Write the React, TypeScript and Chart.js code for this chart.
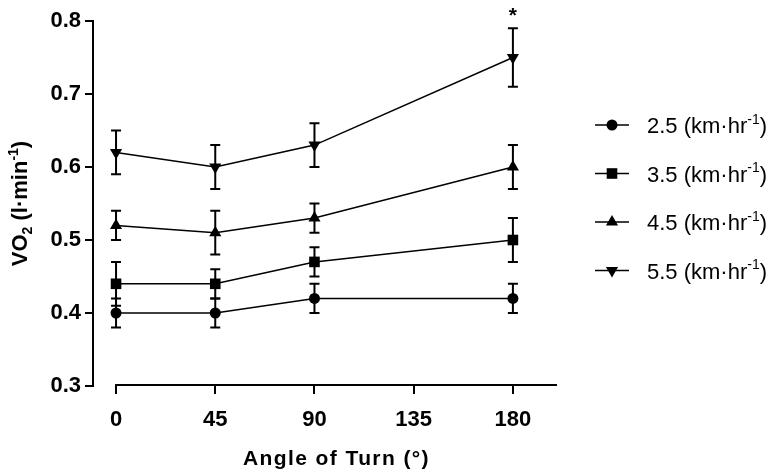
import React, { useEffect, useRef } from "react";
import { Chart, registerables } from "chart.js";

Chart.register(...registerables);

// ---------- data ----------
const angles = [0, 45, 90, 180];
const xTickValues = [0, 45, 90, 135, 180];
const yTickValues = [0.3, 0.4, 0.5, 0.6, 0.7, 0.8];
const speeds = ["2.5", "3.5", "4.5", "5.5"];
const vo2Speed25 = [0.4, 0.4, 0.42, 0.42];
const errSpeed25 = [0.02, 0.02, 0.02, 0.02];
const vo2Speed35 = [0.44, 0.44, 0.47, 0.5];
const errSpeed35 = [0.03, 0.02, 0.02, 0.03];
const vo2Speed45 = [0.52, 0.51, 0.53, 0.6];
const errSpeed45 = [0.02, 0.03, 0.02, 0.03];
const vo2Speed55 = [0.62, 0.6, 0.63, 0.75];
const errSpeed55 = [0.03, 0.03, 0.03, 0.04];
const significantAngles = [180];
const xTitle = "Angle of Turn (°)";

const FONT = '"Liberation Sans", Arial, Helvetica, sans-serif';

type Seg = { t: string; s?: "sup" | "sub" };

function drawRich(
  ctx: CanvasRenderingContext2D,
  segs: Seg[],
  x: number,
  baseline: number,
  size: number,
  weight: string,
  align: "left" | "center",
  spacing = 0
) {
  const c: any = ctx;
  c.letterSpacing = `${spacing}px`;
  const fontFor = (seg: Seg) =>
    `${weight} ${seg.s ? Math.round(size * 0.62) : size}px ${FONT}`;
  const widths = segs.map((seg) => {
    ctx.font = fontFor(seg);
    return ctx.measureText(seg.t).width;
  });
  const total = widths.reduce((a, b) => a + b, 0);
  let cx = align === "center" ? x - total / 2 : x;
  ctx.textAlign = "left";
  ctx.textBaseline = "alphabetic";
  segs.forEach((seg, i) => {
    ctx.font = fontFor(seg);
    const dy = seg.s === "sup" ? -size * 0.42 : seg.s === "sub" ? size * 0.22 : 0;
    ctx.fillText(seg.t, cx, baseline + dy);
    cx += widths[i];
  });
  c.letterSpacing = "0px";
}

function drawMarker(
  ctx: CanvasRenderingContext2D,
  style: string,
  x: number,
  y: number,
  r: number
) {
  ctx.beginPath();
  if (style === "circle") {
    ctx.arc(x, y, r, 0, Math.PI * 2);
  } else if (style === "rect") {
    const h = r * Math.SQRT1_2;
    ctx.rect(x - h, y - h, 2 * h, 2 * h);
  } else {
    const down = style === "down";
    for (let k = 0; k < 3; k++) {
      const a = (down ? Math.PI : 0) + (k * 2 * Math.PI) / 3;
      const px = x + Math.sin(a) * r;
      const py = y - Math.cos(a) * r;
      if (k === 0) ctx.moveTo(px, py);
      else ctx.lineTo(px, py);
    }
    ctx.closePath();
  }
  ctx.fill();
}

const seriesValues = [vo2Speed25, vo2Speed35, vo2Speed45, vo2Speed55];
const seriesErrors = [errSpeed25, errSpeed35, errSpeed45, errSpeed55];
const markerStyles = ["circle", "rect", "triangle", "down"];
const markerRadius = [5.5, 7.5, 7, 7];

export default function App() {
  const canvasRef = useRef<HTMLCanvasElement | null>(null);

  useEffect(() => {
    if (!canvasRef.current) return;

    const errorBars = {
      id: "errorBars",
      beforeDatasetsDraw(chart: any) {
        const ctx = chart.ctx as CanvasRenderingContext2D;
        const ys = chart.scales.y;
        ctx.save();
        ctx.strokeStyle = "#000";
        ctx.lineWidth = 2;
        chart.data.datasets.forEach((ds: any, i: number) => {
          const meta = chart.getDatasetMeta(i);
          meta.data.forEach((pt: any, j: number) => {
            const v = ds.data[j].y;
            const e = seriesErrors[i][j];
            const top = ys.getPixelForValue(v + e);
            const bot = ys.getPixelForValue(v - e);
            const x = pt.x;
            ctx.beginPath();
            ctx.moveTo(x, top);
            ctx.lineTo(x, bot);
            ctx.moveTo(x - 5, top);
            ctx.lineTo(x + 5, top);
            ctx.moveTo(x - 5, bot);
            ctx.lineTo(x + 5, bot);
            ctx.stroke();
          });
        });
        ctx.restore();
      },
      afterDraw(chart: any) {
        const ctx = chart.ctx as CanvasRenderingContext2D;
        const xs = chart.scales.x;
        const ys = chart.scales.y;
        const area = chart.chartArea;
        ctx.save();
        ctx.fillStyle = "#000";
        ctx.strokeStyle = "#000";

        // x axis line (offset from y axis)
        ctx.lineWidth = 2;
        ctx.beginPath();
        ctx.moveTo(xs.getPixelForValue(0) - 1, area.bottom - 1);
        ctx.lineTo(area.right, area.bottom - 1);
        ctx.stroke();

        // significance star
        const last = seriesValues.length - 1;
        significantAngles.forEach((a) => {
          const j = angles.indexOf(a);
          const top = seriesValues[last][j] + seriesErrors[last][j];
          ctx.font = `bold 21px ${FONT}`;
          ctx.textAlign = "center";
          ctx.textBaseline = "alphabetic";
          ctx.fillText("*", xs.getPixelForValue(a), ys.getPixelForValue(top) - 6);
        });

        // x title
        drawRich(ctx, [{ t: xTitle }], (xs.getPixelForValue(0) + area.right) / 2, 465, 21, "bold", "center", 1.4);

        // y title
        ctx.save();
        ctx.translate(27, (area.top + area.bottom) / 2);
        ctx.rotate(-Math.PI / 2);
        drawRich(
          ctx,
          [
            { t: "VO" },
            { t: "2", s: "sub" },
            { t: " (l·min" },
            { t: "-1", s: "sup" },
            { t: ")" },
          ],
          0,
          0,
          22,
          "bold",
          "center"
        );
        ctx.restore();

        // legend
        const lx = area.right + 38;
        speeds.forEach((sp, i) => {
          const ly = 125 + i * 48.5;
          ctx.lineWidth = 1.5;
          ctx.beginPath();
          ctx.moveTo(lx, ly);
          ctx.lineTo(lx + 34, ly);
          ctx.stroke();
          drawMarker(ctx, markerStyles[i], lx + 17, ly, markerRadius[i]);
          drawRich(
            ctx,
            [{ t: `${sp} (km·hr` }, { t: "-1", s: "sup" }, { t: ")" }],
            lx + 52,
            ly + 8,
            22,
            "normal",
            "left"
          );
        });
        ctx.restore();
      },
    };

    const chart = new Chart(canvasRef.current, {
      type: "line",
      data: {
        datasets: speeds.map((sp, i) => ({
          label: `${sp} (km·hr-1)`,
          data: angles.map((a, j) => ({ x: a, y: seriesValues[i][j] })),
          borderColor: "#000",
          backgroundColor: "#000",
          borderWidth: 1.5,
          pointStyle: markerStyles[i] === "down" ? "triangle" : markerStyles[i],
          pointRotation: markerStyles[i] === "down" ? 180 : 0,
          pointRadius: markerRadius[i],
          pointBorderWidth: 0,
          pointBackgroundColor: "#000",
          tension: 0,
          fill: false,
        })),
      },
      options: {
        animation: false,
        responsive: true,
        maintainAspectRatio: false,
        layout: { padding: { left: 0, top: 21, right: 221, bottom: 0 } },
        plugins: {
          legend: { display: false },
          tooltip: { enabled: false },
        },
        scales: {
          x: {
            type: "linear",
            min: -10.45,
            max: 200,
            afterBuildTicks: (s: any) => {
              s.ticks = xTickValues.map((v) => ({ value: v }));
            },
            afterFit: (s: any) => {
              s.height = 89;
            },
            border: { display: false },
            grid: {
              drawOnChartArea: false,
              drawTicks: true,
              tickLength: 8,
              color: "#000",
              lineWidth: 2,
            },
            ticks: {
              color: "#000",
              padding: 13,
              maxRotation: 0,
              autoSkip: false,
              font: { family: FONT, size: 22, weight: "bold" },
              callback: (v: any) => String(v),
            },
          },
          y: {
            type: "linear",
            min: 0.3,
            max: 0.8,
            afterBuildTicks: (s: any) => {
              s.ticks = yTickValues.map((v) => ({ value: v }));
            },
            afterFit: (s: any) => {
              s.width = 93;
            },
            border: { display: true, color: "#000", width: 2 },
            grid: {
              drawOnChartArea: false,
              drawTicks: true,
              tickLength: 8,
              color: "#000",
              lineWidth: 2,
            },
            ticks: {
              color: "#000",
              padding: 4,
              autoSkip: false,
              font: { family: FONT, size: 22, weight: "bold" },
              callback: (v: any) => Number(v).toFixed(1),
            },
          },
        },
      },
      plugins: [errorBars],
    } as any);

    return () => chart.destroy();
  }, []);

  return (
    <div
      style={{
        position: "fixed",
        left: 0,
        top: 0,
        width: 778,
        height: 475,
        background: "#fff",
      }}
    >
      <canvas ref={canvasRef} />
    </div>
  );
}
